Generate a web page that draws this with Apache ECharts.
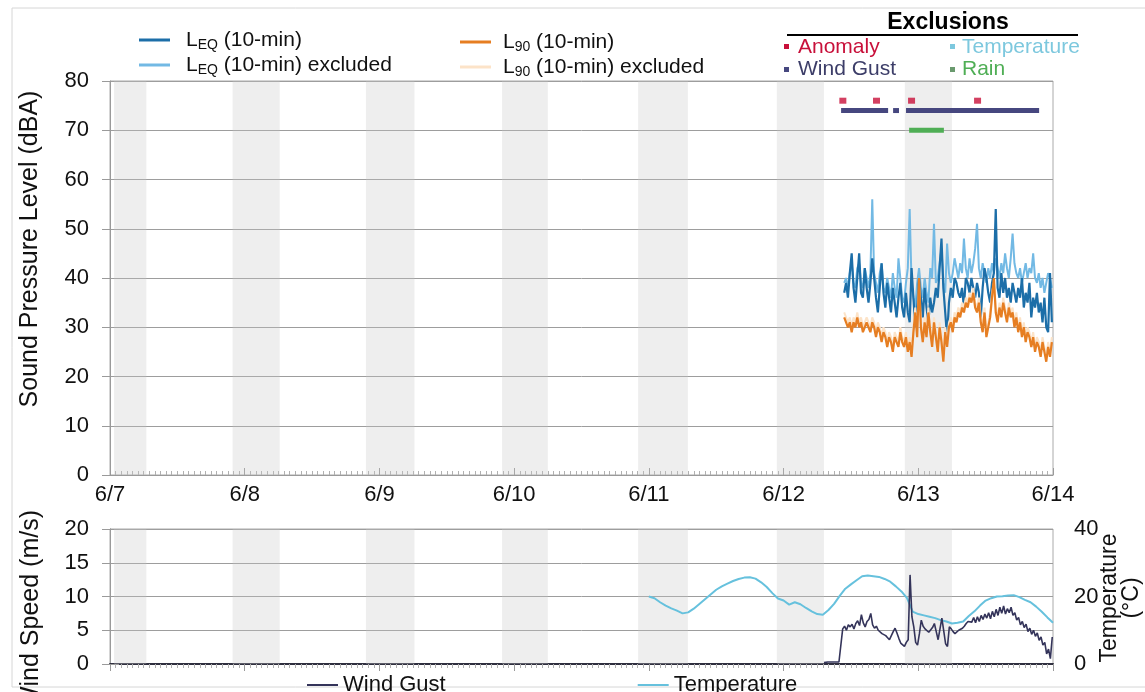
<!DOCTYPE html>
<html><head><meta charset="utf-8">
<script src="https://cdn.jsdelivr.net/npm/echarts@6/dist/echarts.min.js"></script>
<style>html,body{margin:0;padding:0;background:#fff}#c{width:1145px;height:692px}</style>
</head><body><div id="c"></div>
<script>
// ---------- data ----------
const xTickLabels = ['6/7','6/8','6/9','6/10','6/11','6/12','6/13','6/14'];
const nightStart = [0.03, 0.91, 1.90, 2.91, 3.92, 4.95, 5.90];
const nightEnd   = [0.27, 1.26, 2.26, 3.25, 4.29, 5.30, 6.25];

// sound levels, 20-min samples starting at day 5.45 (6/12 ~10:50)
const splStart = 5.45, splStep = 1/72;
const leq = [37,39,36,41,45,38,35,40,45,37, 36,42,38,35,39,44,40,36,33,38,
  43,37,34,39,36,33,38,35,32,36, 39,34,32,37,33,31,42,36,30,34,
  40,36,32,38,34,31,36,33,35,38, 36,42,48,38,33,28,35,38,36,40,
  39,37,36,38,34,40,39,37,40,38, 36,39,37,32,38,42,40,37,35,39,
  41,54,38,36,41,37,40,36,38,35, 39,37,35,38,36,40,34,37,35,39,
  32,36,34,37,33,35,31,36,30,29,41,31];
const leqExcl = [39,40,38,41,43,39,38,42,43,39, 38,42,40,38,41,56,41,39,37,41,
  43,38,37,40,38,36,41,38,36,44, 40,36,35,39,42,54,39,36,34,39,
  42,38,36,40,37,35,42,40,51,39, 40,43,46,39,37,47,41,39,41,44,
  42,40,43,41,48,42,40,44,41,43, 46,51,42,40,43,41,39,42,40,43,
  41,44,42,40,43,41,45,42,40,44, 49,43,41,40,42,39,41,43,40,42,
  41,45,40,39,41,38,40,37,39,41,40,38];
const l90 = [32,31,30,31,29,31,30,32,30,31, 29,30,31,30,29,31,30,28,30,29,
  27,29,28,26,28,27,25,28,27,26, 29,27,26,28,25,27,24,29,33,28,
  40,30,27,31,28,33,29,26,31,28, 25,30,27,23,29,26,30,31,29,32,
  31,33,32,34,33,35,34,36,35,37, 34,33,35,31,29,33,28,30,32,36,
  40,33,31,34,32,35,33,31,34,32, 33,30,32,29,31,28,30,27,29,28,
  26,28,25,27,26,24,27,25,23,26,24,27];
const l90Excl = [33,32,31,32,30,32,31,33,31,32, 30,31,32,31,30,32,31,29,31,30,
  28,30,29,27,29,28,26,29,28,27, 30,28,27,29,26,28,25,30,34,29,
  39,31,28,32,29,34,30,27,32,29, 26,31,28,24,30,27,31,32,30,33,
  32,34,33,35,34,36,35,37,36,38, 35,34,36,32,30,34,29,31,33,37,
  39,34,32,35,33,36,34,32,35,33, 34,31,33,30,32,29,31,28,30,29,
  27,29,26,28,27,25,28,26,24,27,25,28];

// wind gust (m/s), 20-min samples starting at day 5.30
const windStart = 5.30, windStep = 1/72;
const windGust = [0.2,0.2,0.3,0.2,0.3,0.2,0.3,0.2,0.3,0.4,
  5.2,5.6,5.0,5.8,5.5,5.9,5.2,6.0,6.4,5.7, 7.3,6.1,5.5,6.3,6.6,7.5,5.8,5.3,5.6,5.0,
  4.8,4.5,4.6,4.2,3.9,3.6,4.2,4.8,5.3,4.6, 3.8,3.1,2.9,2.6,3.2,3.6,13.2,7.0,5.5,3.2,
  2.8,4.5,6.5,5.6,5.2,5.0,4.7,4.5,5.4,6.0, 4.8,3.6,5.2,6.8,4.9,3.0,2.6,5.5,5.2,4.8,
  4.5,4.6,5.0,5.0,5.3,5.6,6.0,6.3,6.5,6.2, 6.9,6.1,7.0,6.3,7.2,6.6,7.4,6.8,7.6,6.7,
  7.8,7.0,8.1,7.2,8.4,7.5,8.6,7.4,8.2,7.6, 8.4,7.2,7.6,6.5,6.9,5.8,6.3,5.4,5.9,4.8,
  5.3,4.4,5.0,4.1,4.6,3.5,4.0,2.8,3.2,1.5, 2.2,0.8,4.0];

// temperature (°C), hourly from 6/11 00:00
const tempStart = 4.0, tempStep = 1/24;
const temperature = [20.0,19.5,18.3,17.3,16.5,15.8,15.0,15.3,16.4,17.8,
  19.2,20.6,22.0,23.0,23.8,24.6,25.2,25.6,25.7,25.3,
  24.2,22.8,21.0,19.4,18.8,17.6,18.3,17.7,16.6,15.6,
  14.8,14.6,16.0,17.8,20.2,22.3,23.6,24.8,26.0,26.2,
  26.0,25.8,25.2,24.4,23.0,21.5,19.5,15.5,14.8,14.4,
  14.0,13.6,13.0,12.6,12.0,12.2,12.6,14.2,15.6,17.3,
  18.8,19.5,20.0,20.1,20.3,20.4,19.8,19.0,18.3,17.0,
  15.5,13.8,12.2];

// exclusions (days from 6/7)
const anomalyTimes = [5.44, 5.69, 5.95, 6.44];
const windGustExcl = [[5.427,5.776],[5.813,5.857],[5.909,6.897]];
const rainExcl = [[5.932,6.19]];

// ---------- build ----------
const FONT = 'Liberation Sans, Arial, sans-serif';
const pairs = (t0, dt, arr) => arr.map((v,i)=>[t0 + i*dt, v]);
const bands = nightStart.map((s,i)=>[{xAxis:s},{xAxis:nightEnd[i]}]);
const bandStyle = {color:'rgba(200,200,200,0.30)'};

const C = {
  leq:'#1c6ea8', leqX:'#72b9e4', l90:'#e67e22', l90X:'#fce3c8',
  anomaly:'#c8103a', gust:'#46477f', tempX:'#7dc8de', rain:'#4fae55',
  windLine:'#34345a', tempLine:'#66c1dd'
};

const names = {
  'LEQ (10-min)':'{m|L}{s|EQ}{m| (10-min)}',
  'LEQ (10-min) excluded':'{m|L}{s|EQ}{m| (10-min) excluded}',
  'L90 (10-min)':'{m|L}{s|90}{m| (10-min)}',
  'L90 (10-min) excluded':'{m|L}{s|90}{m| (10-min) excluded}'
};
const rich = {
  m:{fontSize:21, fontFamily:FONT, color:'#111', lineHeight:24, verticalAlign:'middle'},
  s:{fontSize:14, fontFamily:FONT, color:'#111', lineHeight:24, verticalAlign:'middle', padding:[10,0,0,0]}
};

function barRender(level, h){
  return function(params, api){
    const p1 = api.coord([api.value(0), level]);
    const p2 = api.coord([api.value(1), level]);
    return {type:'rect', shape:{x:p1[0], y:p1[1]-h/2, width:Math.max(p2[0]-p1[0],1), height:h},
      style: api.style()};
  };
}

const xBase = {
  type:'value', min:0, max:7, interval:1,
  axisLine:{show:true, lineStyle:{color:'#9a9a9a'}},
  axisTick:{show:true, inside:true, length:7, lineStyle:{color:'#9a9a9a'}},
  minorTick:{show:true, splitNumber:24, length:4, lineStyle:{color:'#b0b0b0'}},
  splitLine:{show:false}
};
const yLabel = {fontSize:22, color:'#111', fontFamily:FONT, margin:21};
const yTick = {show:true, length:8, lineStyle:{color:'#9a9a9a'}};
const ySplit = {show:true, lineStyle:{color:'#9d9d9d', width:1}};

const option = {
  animation:false,
  backgroundColor:'#fff',
  textStyle:{fontFamily:FONT},
  grid:[
    {left:110, top:81, width:943, height:394, show:true, borderColor:'#aaaaaa', borderWidth:1},
    {left:110, top:529, width:943, height:135, show:true, borderColor:'#aaaaaa', borderWidth:1}
  ],
  xAxis:[
    Object.assign({}, xBase, {gridIndex:0, position:'bottom',
      axisLabel:{fontSize:22, color:'#111', fontFamily:FONT, margin:9,
        formatter:v=>xTickLabels[Math.round(v)]}}),
    Object.assign({}, xBase, {gridIndex:1, position:'top', axisLabel:{show:false}}),
    {type:'value', gridIndex:1, position:'bottom', min:0, max:7, axisLine:{show:true, lineStyle:{color:'#2f2f3f', width:2}},
      axisTick:{show:false}, axisLabel:{show:false}, splitLine:{show:false}}
  ],
  yAxis:[
    {type:'value', gridIndex:0, min:0, max:80, interval:10, axisLine:{show:true, lineStyle:{color:'#9a9a9a'}},
      axisTick:yTick, axisLabel:yLabel, splitLine:ySplit},
    {type:'value', gridIndex:1, min:0, max:20, interval:5, axisLine:{show:true, lineStyle:{color:'#9a9a9a'}},
      axisTick:yTick, axisLabel:yLabel, splitLine:ySplit},
    {type:'value', gridIndex:1, position:'right', min:0, max:40, interval:20,
      axisLine:{show:true, lineStyle:{color:'#9a9a9a'}}, axisTick:{show:true, length:9, lineStyle:{color:'#9a9a9a'}},
      axisLabel:{fontSize:22, color:'#111', fontFamily:FONT, margin:21}, splitLine:{show:false}}
  ],
  legend:[
    {orient:'vertical', left:134, top:23, icon:'rect', itemWidth:31, itemHeight:3, itemGap:1,
      data:['LEQ (10-min)','LEQ (10-min) excluded'], formatter:n=>names[n],
      textStyle:{rich:rich, padding:[0,0,0,11]}},
    {orient:'vertical', left:455, top:25, icon:'rect', itemWidth:31, itemHeight:3, itemGap:1,
      data:['L90 (10-min)','L90 (10-min) excluded'], formatter:n=>names[n],
      textStyle:{rich:rich, padding:[0,0,0,7]}},
    {orient:'horizontal', left:302, top:669, icon:'rect', itemWidth:31, itemHeight:2, itemGap:192,
      data:['Wind Gust','Temperature'], textStyle:{fontSize:22, color:'#111', fontFamily:FONT}}
  ],
  series:[
    {name:'LEQ (10-min) excluded', type:'line', xAxisIndex:0, yAxisIndex:0, symbol:'none',
      data:pairs(splStart, splStep, leqExcl), lineStyle:{color:C.leqX, width:2}, itemStyle:{color:C.leqX},
      markArea:{silent:true, itemStyle:bandStyle, data:bands}},
    {name:'LEQ (10-min)', type:'line', xAxisIndex:0, yAxisIndex:0, symbol:'none',
      data:pairs(splStart, splStep, leq), lineStyle:{color:C.leq, width:2.2}, itemStyle:{color:C.leq}},
    {name:'L90 (10-min) excluded', type:'line', xAxisIndex:0, yAxisIndex:0, symbol:'none',
      data:pairs(splStart, splStep, l90Excl), lineStyle:{color:C.l90X, width:2}, itemStyle:{color:C.l90X}},
    {name:'L90 (10-min)', type:'line', xAxisIndex:0, yAxisIndex:0, symbol:'none',
      data:pairs(splStart, splStep, l90), lineStyle:{color:C.l90, width:2.2}, itemStyle:{color:C.l90}},
    {name:'Anomaly', type:'scatter', xAxisIndex:0, yAxisIndex:0, symbol:'rect', symbolSize:[7,6],
      data:anomalyTimes.map(t=>[t,76]), itemStyle:{color:C.anomaly}},
    {name:'Wind Gust excl', type:'custom', xAxisIndex:0, yAxisIndex:0, renderItem:barRender(74,5),
      data:windGustExcl, itemStyle:{color:C.gust}, encode:{x:[0,1]}},
    {name:'Rain excl', type:'custom', xAxisIndex:0, yAxisIndex:0, renderItem:barRender(70,5),
      data:rainExcl, itemStyle:{color:C.rain}, encode:{x:[0,1]}},
    {name:'Temperature', type:'line', xAxisIndex:1, yAxisIndex:2, symbol:'none',
      data:pairs(tempStart, tempStep, temperature), lineStyle:{color:C.tempLine, width:2}, itemStyle:{color:C.tempLine},
      markArea:{silent:true, itemStyle:bandStyle, data:bands}},
    {name:'Wind Gust', type:'line', xAxisIndex:1, yAxisIndex:1, symbol:'none',
      data:pairs(windStart, windStep, windGust), lineStyle:{color:C.windLine, width:1.6}, itemStyle:{color:C.windLine}}
  ],
  graphic:[
    {type:'rect', shape:{x:12, y:8, width:1140, height:679}, style:{fill:null, stroke:'#d6d6d6', lineWidth:1}, silent:true},
    {type:'text', x:30, y:249, rotation:Math.PI/2,
      style:{text:'Sound Pressure Level (dBA)', fontSize:25, fontFamily:FONT, fill:'#111', align:'center', verticalAlign:'middle'}},
    {type:'text', x:31, y:610, rotation:Math.PI/2,
      style:{text:'Wind Speed (m/s)', fontSize:25, fontFamily:FONT, fill:'#111', align:'center', verticalAlign:'middle'}},
    {type:'text', x:1121, y:598, rotation:Math.PI/2,
      style:{text:'Temperature\n(°C)', fontSize:23, lineHeight:22, fontFamily:FONT, fill:'#111', align:'center', verticalAlign:'middle'}},
    {type:'text', x:948, y:23, style:{text:'Exclusions', fontSize:23, fontWeight:'bold', fontFamily:FONT, fill:'#000', align:'center', verticalAlign:'middle'}},
    {type:'line', shape:{x1:787, y1:35, x2:1078, y2:35}, style:{stroke:'#000', lineWidth:2}},
    {type:'rect', shape:{x:784, y:44, width:5, height:5}, style:{fill:C.anomaly}},
    {type:'text', x:798, y:47, style:{text:'Anomaly', fontSize:21, fontFamily:FONT, fill:C.anomaly, verticalAlign:'middle'}},
    {type:'rect', shape:{x:784, y:67, width:5, height:5}, style:{fill:C.gust}},
    {type:'text', x:798, y:69, style:{text:'Wind Gust', fontSize:21, fontFamily:FONT, fill:'#3c3d68', verticalAlign:'middle'}},
    {type:'rect', shape:{x:950, y:44, width:5, height:5}, style:{fill:C.tempX}},
    {type:'text', x:962, y:47, style:{text:'Temperature', fontSize:21, fontFamily:FONT, fill:C.tempX, verticalAlign:'middle'}},
    {type:'rect', shape:{x:950, y:67, width:5, height:5}, style:{fill:'#6a9a6e'}},
    {type:'text', x:962, y:69, style:{text:'Rain', fontSize:21, fontFamily:FONT, fill:C.rain, verticalAlign:'middle'}}
  ]
};
const chart = echarts.init(document.getElementById('c'), null, {renderer:'canvas'});
chart.setOption(option);
</script></body></html>
